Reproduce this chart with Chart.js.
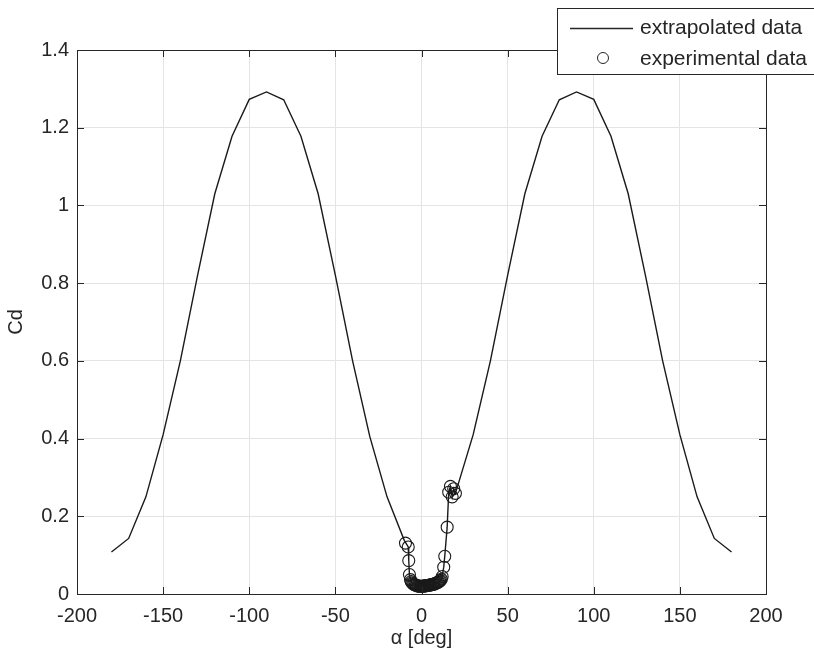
<!DOCTYPE html>
<html>
<head>
<meta charset="utf-8">
<script src="https://cdn.jsdelivr.net/npm/chart.js@4.4.0/dist/chart.umd.min.js"></script>
<style>
  html, body { margin: 0; padding: 0; background: #fff; }
  #wrap { width: 814px; height: 654px; }
</style>
</head>
<body>
<div id="wrap"><canvas id="cd_chart" width="814" height="654"></canvas></div>
<script>
// extrapolated curve, left part (deg, Cd)
const leftAlpha = [-180, -170, -160, -150, -140, -130, -120, -110, -100, -90, -80, -70, -60, -50, -40, -30, -20, -10];
const leftCd = [0.108, 0.143, 0.25, 0.41, 0.60, 0.82, 1.03, 1.178, 1.273, 1.292, 1.272, 1.178, 1.03, 0.82, 0.60, 0.405, 0.25, 0.138];

// experimental data
const expAlpha = [-9.3, -7.7, -7.4, -7.0, -6.4,
  -6, -5.5, -5, -4.5, -4, -3.5, -3, -2.5, -2, -1.5, -1, -0.5, 0, 0.5, 1, 1.5, 2, 2.5,
  3, 3.5, 4, 4.5, 5, 5.5, 6, 6.5, 7, 7.5, 8, 8.5, 9, 9.5, 10, 10.5, 11, 11.5,
  12, 12.9, 13.5, 14.9, 15.8, 16.8, 17.8, 18.7, 19.7];
const expCd = [0.131, 0.121, 0.086, 0.050, 0.037,
  0.032, 0.029, 0.027, 0.025, 0.024, 0.023, 0.022, 0.021, 0.021, 0.020, 0.020, 0.020, 0.020, 0.020, 0.020, 0.021, 0.021, 0.021,
  0.022, 0.022, 0.022, 0.023, 0.023, 0.024, 0.024, 0.025, 0.025, 0.026, 0.027, 0.028, 0.029, 0.030, 0.031, 0.033, 0.035, 0.038,
  0.045, 0.069, 0.097, 0.172, 0.262, 0.277, 0.25, 0.271, 0.259];

// extrapolated curve, right part
const rightAlpha = [30, 40, 50, 60, 70, 80, 90, 100, 110, 120, 130, 140, 150, 160, 170, 180];
const rightCd = [0.41, 0.60, 0.82, 1.03, 1.178, 1.272, 1.292, 1.273, 1.178, 1.03, 0.82, 0.60, 0.41, 0.25, 0.143, 0.108];

const xTicks = [-200, -150, -100, -50, 0, 50, 100, 150, 200];
const yTicks = [0, 0.2, 0.4, 0.6, 0.8, 1, 1.2, 1.4];

const toPts = (xs, ys) => xs.map((v, i) => ({ x: v, y: ys[i] }));
const extPts = toPts(leftAlpha, leftCd)
  .concat(toPts(expAlpha.slice(1), expCd.slice(1)))
  .concat(toPts(rightAlpha, rightCd));
const expPts = toPts(expAlpha, expCd);

const ink = '#262626';
Chart.defaults.font.family = '"Liberation Sans", Arial, sans-serif';
Chart.defaults.font.size = 20;
Chart.defaults.color = ink;

// box, inward ticks and legend like the matlab figure
const matlabBox = {
  id: 'matlabBox',
  afterDraw(chart) {
    const { ctx, chartArea: { left, right, top, bottom }, scales: { x, y } } = chart;
    ctx.save();
    ctx.strokeStyle = ink;
    ctx.lineWidth = 1;
    ctx.strokeRect(Math.round(left) + 0.5, Math.round(top) + 0.5, Math.round(right - left), Math.round(bottom - top));
    ctx.beginPath();
    xTicks.forEach(t => {
      const px = Math.round(x.getPixelForValue(t)) + 0.5;
      ctx.moveTo(px, bottom); ctx.lineTo(px, bottom - 7);
      ctx.moveTo(px, top); ctx.lineTo(px, top + 7);
    });
    yTicks.forEach(t => {
      const py = Math.round(y.getPixelForValue(t)) + 0.5;
      ctx.moveTo(left, py); ctx.lineTo(left + 7, py);
      ctx.moveTo(right, py); ctx.lineTo(right - 7, py);
    });
    ctx.stroke();

    // legend
    const ds = chart.data.datasets;
    ctx.fillStyle = '#fff';
    ctx.fillRect(557, 8, 270, 66);
    ctx.strokeRect(557.5, 8.5, 270, 66);
    ctx.beginPath();
    ctx.lineWidth = 1.4;
    ctx.moveTo(570, 28.5); ctx.lineTo(633, 28.5);
    ctx.stroke();
    ctx.lineWidth = 1;
    ctx.beginPath();
    ctx.arc(603, 58, 5.5, 0, Math.PI * 2);
    ctx.stroke();
    ctx.fillStyle = ink;
    ctx.font = '21px "Liberation Sans", Arial, sans-serif';
    ctx.textBaseline = 'middle';
    ctx.textAlign = 'left';
    ctx.fillText(ds[0].label, 640, 28);
    ctx.fillText(ds[1].label, 640, 59);
    ctx.restore();
  }
};

new Chart(document.getElementById('cd_chart').getContext('2d'), {
  type: 'scatter',
  data: {
    datasets: [{
      label: 'extrapolated data',
      data: extPts,
      showLine: true,
      borderColor: '#1a1a1a',
      borderWidth: 1.4,
      pointRadius: 0,
      tension: 0
    }, {
      label: 'experimental data',
      data: expPts,
      showLine: false,
      pointStyle: 'circle',
      pointRadius: 6,
      borderWidth: 1.1,
      borderColor: '#1a1a1a',
      backgroundColor: 'rgba(0,0,0,0)'
    }]
  },
  options: {
    responsive: false,
    animation: false,
    layout: { padding: { top: 50, right: 48, left: 0, bottom: 0 } },
    plugins: {
      legend: { display: false },
      tooltip: { enabled: false }
    },
    scales: {
      x: {
        type: 'linear',
        min: -200,
        max: 200,
        afterBuildTicks: s => { s.ticks = xTicks.map(v => ({ value: v })); },
        afterFit: s => { s.height = 60; },
        ticks: { padding: 10, color: ink },
        grid: { color: '#e4e4e4', drawTicks: false, tickLength: 0 },
        border: { display: false },
        title: { display: true, text: 'α [deg]', color: ink, padding: { top: 2, bottom: 4 } }
      },
      y: {
        type: 'linear',
        min: 0,
        max: 1.4,
        afterBuildTicks: s => { s.ticks = yTicks.map(v => ({ value: v })); },
        afterFit: s => { s.width = 77; },
        ticks: { padding: 8, color: ink, callback: v => String(Math.round(v * 10) / 10) },
        grid: { color: '#e4e4e4', drawTicks: false, tickLength: 0 },
        border: { display: false },
        title: { display: true, text: 'Cd', color: ink, padding: { top: 4, bottom: 4 } }
      }
    }
  },
  plugins: [matlabBox]
});
</script>
</body>
</html>
